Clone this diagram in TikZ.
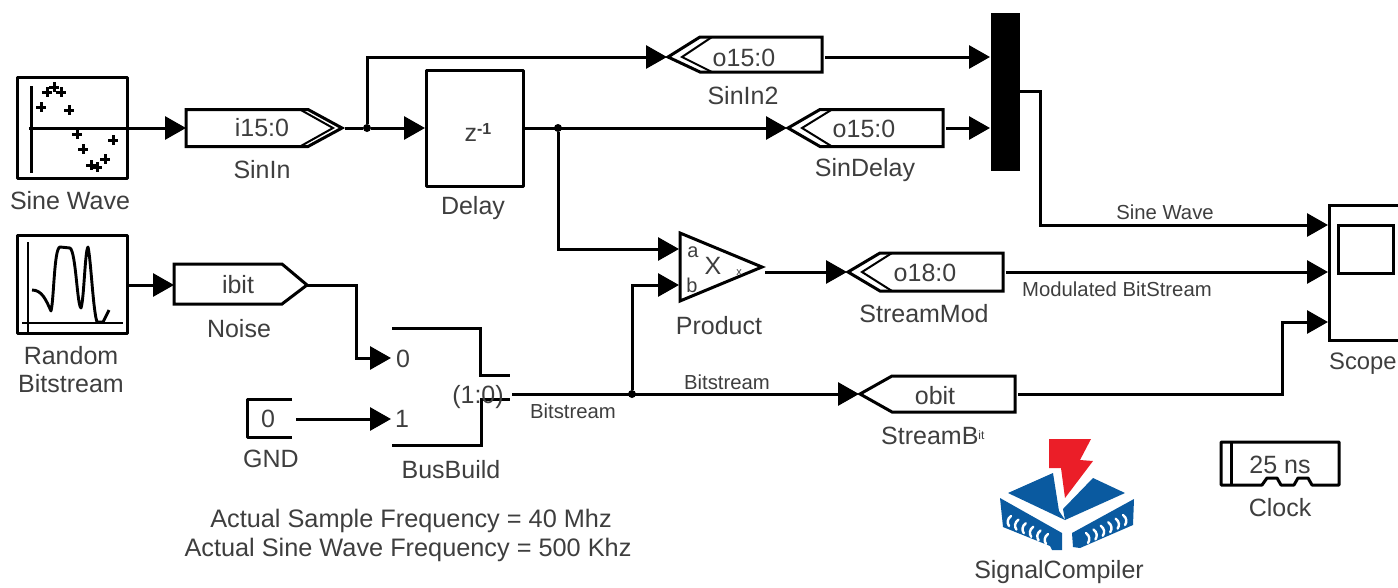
\documentclass[tikz,border=0pt]{standalone}
\usepackage{fontspec}
\setmainfont{Liberation Sans}
\usetikzlibrary{arrows.meta}
\definecolor{txt}{RGB}{62,62,62}
\definecolor{icblue}{RGB}{10,90,160}
\definecolor{icred}{RGB}{235,30,40}
\newcommand\gotoOut[6]{% name, left, right-shoulder, tip, cy, half
  \draw[blk,line join=miter] (#2,#5-#6) -- (#3+8,#5-#6) -- (#4,#5) -- (#3+8,#5+#6) -- (#2,#5+#6) -- cycle;
  \draw[inner] (#3,#5-#6) -- (#4-9,#5) -- (#3,#5+#6);
  \coordinate (#1-in) at (#2,#5);
  \coordinate (#1-out) at (#4+3,#5);
}
\newcommand\gotoIn[6]{% name, tip, right, cy, half up, half down
  \draw[blk,line join=miter] (#3,#4-#5) -- (#2+32,#4-#5) -- (#2,#4) -- (#2+32,#4+#6) -- (#3,#4+#6) -- cycle;
  \draw[inner] (#2+44,#4-#5) -- (#2+14,#4) -- (#2+44,#4+#6);
  \coordinate (#1-in) at (#2-1,#4);
  \coordinate (#1-out) at (#3+3,#4);
}
\tikzset{
  blk/.style={draw=black,line width=3pt,line join=round},
  inner/.style={draw=black,line width=2pt},
  conn/.style={draw=black,line width=3pt,line join=miter},
  arr/.style={conn,-{Triangle[length=21pt,width=23pt]}},
  box/.style={blk,rectangle,inner sep=0pt,outer sep=0pt,fill=white},
  lab/.style={text=txt,font=\fontsize{25}{28}\selectfont,inner sep=0pt},
  note/.style={text=txt,font=\fontsize{25.3}{28}\selectfont,inner sep=0pt},
  sml/.style={text=txt,font=\fontsize{20.3}{24}\selectfont,inner sep=0pt},
  dotj/.style={circle,fill=black,inner sep=0pt,minimum size=8pt},
  mk/.style={draw=black,line width=3pt},
  rib/.style={draw=white,line width=2.4pt,line cap=round}
}
\begin{document}
\begin{tikzpicture}[x=1pt,y=-1pt]
\useasboundingbox (0,0) rectangle (1398,587);
\clip (0,0) rectangle (1398,587);
% Blocks
\node[box,minimum width=110pt,minimum height=101pt] (sine) at (72,127.5) {};
\node[box,minimum width=110pt,minimum height=98pt] (rnd) at (72,284) {};
\node[box,minimum width=97pt,minimum height=116pt] (delay) at (474.5,128) {};
\node[rectangle,fill=black,inner sep=0pt,minimum width=29pt,minimum height=158pt] (mux) at (1005,92) {};
% Sine wave icon
\draw[mk] (31,86) -- (31,173);
\foreach \p in {(41,107),(47,92),(54,87),(61,92),(69,110),(77,134),(83,149),(113,140),(91,165),(97,167),(105,159)}{
  \draw[mk] \p ++(-5,0) -- ++(10,0) \p ++(0,-5) -- ++(0,10);
}
% Random icon
\draw[line width=2.6pt] (28,242) -- (28,332);
\draw[line width=2.2pt] (22,323) -- (123,323);
\draw[line width=2.9pt,line join=round] (32,290) .. controls (42,290) and (46,300) .. (51,311) .. controls (54,300) and (54,248) .. (60,247) -- (70,248) .. controls (76,252) and (77,305) .. (81,308) .. controls (84,300) and (85,250) .. (88,247) .. controls (91,260) and (93,310) .. (97,322) -- (103,322) -- (109,310);
% Delay text
\node[lab,anchor=base] (dtxt) at (478,141) {z\raisebox{7pt}{\fontsize{16}{18}\selectfont\textbf{-1}}};
% Goto blocks
\gotoOut{sinin}{186}{300}{342}{128}{18.5}
\gotoIn{sinintwo}{668}{822}{57}{20}{15}
\gotoIn{sindelay}{788}{943}{128}{18.5}{18.5}
\gotoIn{smod}{848}{1003}{272}{19}{19}
% Noise
\draw[blk,line join=miter] (174,264) -- (282,264) -- (307,285) -- (282,304) -- (174,304) -- cycle;
\coordinate (noise-in) at (174,285);
\coordinate (noise-out) at (307,285);
% obit
\draw[blk,line join=miter] (1015,376) -- (892,376) -- (860,394) -- (892,412) -- (1015,412) -- cycle;
\coordinate (obit-in) at (859,394);
\coordinate (obit-out) at (1018,394);
% Product
\draw[blk,line join=miter] (680,233) -- (762,267) -- (680,301) -- cycle;
\coordinate (pa) at (679,249);
\coordinate (pb) at (679,285);
\coordinate (pout) at (765,272);
\node[lab,font=\fontsize{20}{24}\selectfont] (ta) at (693,252) {a};
\node[lab,font=\fontsize{20}{24}\selectfont] (tb) at (692,285) {b};
\node[lab] (tx) at (713,266) {X};
\node[sml,font=\fontsize{11}{12}\selectfont] (ty) at (739,273) {x};
% BusBuild
\draw[blk,line join=miter] (392,328) -- (480,328) -- (480,375) -- (510,375);
\draw[blk,line join=miter] (392,445) -- (481,445) -- (481,399) -- (510,399);
\node[lab] (bit) at (478,397) {(1:0)};
\node[lab] (b0) at (403,359) {0};
\node[lab] (b1) at (402,419) {1};
\coordinate (bb0) at (391,358);
\coordinate (bb1) at (391,419);
\coordinate (bbout) at (512,394);
% GND
\draw[blk] (292,399) -- (247,399) -- (247,437) -- (292,437);
\node[lab] (g0) at (268,419) {0};
\coordinate (gout) at (296,419);
% Scope
\draw[blk,line join=miter] (1398,205) -- (1329,205) -- (1329,340) -- (1398,340);
\draw[blk,line join=miter] (1338,225) rectangle (1393,273);
\coordinate (sc1) at (1328,225);
\coordinate (sc2) at (1328,272);
\coordinate (sc3) at (1328,322);
% Clock
\draw[blk] (1221,442) -- (1339,442) -- (1339,485) -- (1312,485) -- (1308,478) -- (1298,478) -- (1294,485) -- (1281,485) -- (1277,478) -- (1267,478) -- (1262,485) -- (1221,485) -- cycle;
\draw[blk] (1231,442) -- (1231,485);
\node[lab] (clk) at (1280,465) {25 ns};
% Text in blocks
\node[lab] (t1) at (262,128) {i15:0};
\node[lab] (t2) at (744,58) {o15:0};
\node[lab] (t3) at (864,129) {o15:0};
\node[lab] (t4) at (925,273) {o18:0};
\node[lab] (t5) at (238,285) {ibit};
\node[lab] (t6) at (935,396) {obit};
% Labels
\node[lab] (l1) at (70,201) {Sine Wave};
\node[lab,align=center] (l2) at (71,370) {Random\\Bitstream};
\node[lab] (l3) at (262,170) {SinIn};
\node[lab] (l4) at (239,329) {Noise};
\node[lab] (l5) at (473,208) {Delay};
\node[lab] (l6) at (743,96) {SinIn2};
\node[lab] (l7) at (865,170) {SinDelay};
\node[lab] (l8) at (719,326) {Product};
\node[lab] (l9) at (924,314) {StreamMod};
\node[lab] (l10) at (451,470) {BusBuild};
\node[lab] (l11) at (271,459) {GND};
\node[lab,anchor=west,font=\fontsize{23.8}{28}\selectfont] (l12) at (1329,364) {Scope};
\node[lab] (l13) at (1280,508) {Clock};
\node[lab] (l14) at (1059,572) {SignalCompiler};
\node[lab,anchor=west] (l15) at (881,436) {StreamB\raisebox{5pt}{\fontsize{12}{13}\selectfont it}};
\node[note] (n1) at (411,521) {Actual Sample Frequency = 40 Mhz};
\node[note] (n2) at (408,550) {Actual Sine Wave Frequency = 500 Khz};
% Signal labels
\node[sml] (s1) at (1165,212) {Sine Wave};
\node[sml,anchor=west] (s2) at (1022,289) {Modulated BitStream};
\node[sml] (s3) at (727,382) {Bitstream};
\node[sml] (s4) at (573,411) {Bitstream};
% Connectors
\node[dotj] (j1) at (367,128) {};
\node[dotj] (j2) at (558,128) {};
\node[dotj] (j3) at (632,394) {};
\coordinate (sineo) at (127,128);
\coordinate (rndo) at (127,285);
\coordinate (dout) at (523,128);
\coordinate (dinp) at (425,128);
\coordinate (mux1) at (990,57);
\coordinate (mux2) at (990,128);
\coordinate (muxo) at (1019,91);
\draw[conn] (29,128) -- (sineo);
\draw[arr] (sineo) -- (sinin-in);
\draw[arr] (rndo) -- (noise-in);
\draw[conn] (sinin-out) -- (j1);
\draw[arr] (j1) -- (dinp);
\draw[arr] (j1) |- (sinintwo-in);
\draw[arr] (sinintwo-out) -- (mux1);
\draw[arr] (dout) -- (sindelay-in);
\draw[arr] (sindelay-out) -- (mux2);
\draw[arr] (j2) |- (pa);
\draw[arr] (j3) |- (pb);
\draw[arr] (pout) -- (smod-in);
\draw[arr] (smod-out) -- (sc2);
\draw[arr] (muxo) -- (1040,91) |- (sc1);
\draw[arr] (noise-out) -- (356,285) |- (bb0);
\draw[arr] (gout) -- (bb1);
\draw[arr] (bbout) -- (obit-in);
\draw[arr] (obit-out) -- (1282,394) |- (sc3);
% SignalCompiler icon
\fill[icred] (1049,439) -- (1091,439) -- (1080,460) -- (1093,461) -- (1065,498) -- (1061,468) -- (1049,468) -- cycle;
\fill[icblue] (1008,493) -- (1053,473) -- (1059,511) -- (1065,520) -- cycle;
\fill[icblue] (1063,509) -- (1093,478) -- (1125,493) -- (1065,520) -- cycle;
\fill[icblue] (1000,498) -- (1062,533) -- (1062,550) -- (1052,550) -- (1050,546) -- (1003,527) -- cycle;
\fill[icblue] (1134,499) -- (1072,533) -- (1073,547) -- (1080,548) -- (1133,525) -- cycle;
\foreach \i in {0,...,5}{
  \draw[rib] (1011+7.4*\i,516+3.6*\i) .. controls (1007+7.4*\i,519+3.6*\i) and (1007+7.4*\i,523+3.6*\i) .. (1009+7.4*\i,526+3.6*\i);
  \draw[rib] (1123-7.4*\i,515+3.6*\i) .. controls (1127-7.4*\i,518+3.6*\i) and (1127-7.4*\i,522+3.6*\i) .. (1125-7.4*\i,525+3.6*\i);
}
\end{tikzpicture}
\end{document}
